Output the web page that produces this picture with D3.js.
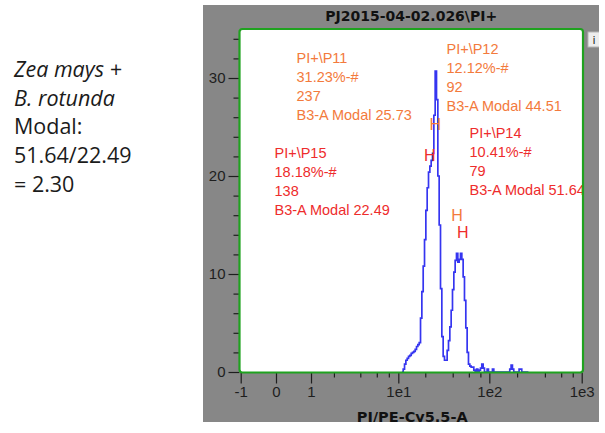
<!DOCTYPE html>
<html>
<head>
<meta charset="utf-8">
<script src="https://cdn.jsdelivr.net/npm/d3@7"></script>
<style>
  html, body { margin: 0; padding: 0; background: #ffffff; }
  svg { display: block; }
</style>
</head>
<body>
<svg id="chart" width="605" height="433"></svg>
<script>
// ---- data ----
const sampleTitle = "PJ2015-04-02.026\\PI+";
const axisTitle = "PI/PE-Cy5.5-A";

const xTickValues = [-1, 0, 1, 10, 100, 1000];
const xTickLabels = ["-1", "0", "1", "1e1", "1e2", "1e3"];
const xMinorTicks = [2, 4, 6, 8, 20, 40, 60, 80, 200, 400, 600, 800];
const yMajorTicks = [0, 10, 20, 30];
const yMinorTicks = [2, 4, 6, 8, 12, 14, 16, 18, 22, 24, 26, 28, 32, 34];

// histogram: 256 display channels across the axis, counts from channel 121 on
const channelCount = 256;
const firstChannel = 121;
const counts = [
  0, 0.3, 0.8, 1.2, 1.4, 1.6, 1.7, 1.9, 2.0, 2.1,
  2.3, 2.6, 2.8, 3.0, 5.5, 8.2, 10.8, 13.5, 16.5, 18.8,
  20.4, 21.0, 21.6, 22.3, 26.2, 30.7, 27.8, 20.0, 15.0, 8.5,
  3.6, 1.6, 1.2, 1.2, 2.2, 3.2, 4.6, 6.3, 8.4, 10.2,
  11.4, 12.1, 11.2, 11.5, 12.1, 11.5, 9.7, 7.3, 4.5, 2.0,
  0.8, 0.6, 0.5, 0.5, 0.2, 0, 0.3, 0, 0.2, 0.4,
  0.8, 0.4, 0, 0, 0.3, 0, 0, 0, 0.3, 0,
  0, 0, 0, 0, 0, 0, 0, 0, 0, 0,
  0, 0.3, 0.7, 0.3, 0, 0, 0, 0, 0.3, 0.3,
  0, 0, 0, 0, 0
];

// gates
const gateNames = ["PI+\\P11", "PI+\\P12", "PI+\\P15", "PI+\\P14"];
const gatePercents = ["31.23%-#", "12.12%-#", "18.18%-#", "10.41%-#"];
const gateEvents = [237, 92, 138, 79];
const gateModal = [25.73, 44.51, 22.49, 51.64];
const gateMarkerLevel = [25.3, 16.0, 22.1, 14.3];
const gateColors = ["#f37a3c", "#f37a3c", "#ee2c2c", "#ee2c2c"];

// side note
const noteLines = [
  { text: "Zea mays +", italic: true },
  { text: "B. rotunda", italic: true },
  { text: "Modal:", italic: false },
  { text: gateModal[3].toFixed(2) + "/" + gateModal[2].toFixed(2), italic: false },
  { text: "= " + (gateModal[3] / gateModal[2]).toFixed(2), italic: false }
];

// ---- layout ----
const panel = { x: 203, y: 5, w: 396, h: 417 };
const plot = { left: 239.5, top: 29, right: 583, bottom: 372.5 };
const labelAnchors = [[57, 34], [207, 25], [35, 129], [230, 109]]; // relative to plot
const labelLineGap = 19;

const svg = d3.select("#chart");

// side note text
const note = svg.append("g")
  .attr("font-family", "'Open Sans', 'Noto Sans', sans-serif")
  .attr("font-size", 21.5)
  .attr("fill", "#1b1b1b");
note.selectAll("text").data(noteLines).join("text")
  .attr("x", 14)
  .attr("y", (d, i) => 77 + i * 28.7)
  .attr("font-style", d => d.italic ? "italic" : "normal")
  .text(d => d.text);

// grey window
svg.append("rect")
  .attr("x", panel.x).attr("y", panel.y)
  .attr("width", panel.w).attr("height", panel.h)
  .attr("fill", "#878787");

svg.append("defs").append("clipPath").attr("id", "panelClip")
  .append("rect")
  .attr("x", panel.x).attr("y", panel.y)
  .attr("width", panel.w).attr("height", panel.h);
svg.select("defs").append("clipPath").attr("id", "plotClip")
  .append("rect")
  .attr("x", plot.left).attr("y", plot.top)
  .attr("width", plot.right - plot.left).attr("height", plot.bottom - plot.top);

const win = svg.append("g").attr("clip-path", "url(#panelClip)");

// info button
win.append("rect")
  .attr("x", 588).attr("y", 32).attr("width", 14).attr("height", 15)
  .attr("fill", "#ededed").attr("stroke", "#b5b5b5");
win.append("text")
  .attr("x", 594).attr("y", 44)
  .attr("text-anchor", "middle")
  .attr("font-family", "'DejaVu Sans', sans-serif")
  .attr("font-size", 11).attr("fill", "#222")
  .text("i");

// title
win.append("text")
  .attr("x", (plot.left + plot.right) / 2).attr("y", 20.5)
  .attr("text-anchor", "middle")
  .attr("font-family", "'DejaVu Sans', sans-serif")
  .attr("font-weight", "bold").attr("font-size", 14)
  .attr("fill", "#111")
  .text(sampleTitle);

// plot background
win.append("rect")
  .attr("x", plot.left).attr("y", plot.top)
  .attr("width", plot.right - plot.left).attr("height", plot.bottom - plot.top)
  .attr("fill", "#ffffff");

// ---- scales ----
const axisStart = plot.left + 1.2, axisEnd = plot.right - 1.3;
const axisSpan = axisEnd - axisStart;
const x = d3.scaleSymlog()
  .constant(0.5)
  .domain(xTickValues)
  .range([0, 0.1035, 0.2062, 0.4622, 0.7291, 1].map(f => axisStart + f * axisSpan));
const channel = d3.scaleLinear()
  .domain([0, channelCount])
  .range([axisStart, axisEnd]);
const y = d3.scaleLinear()
  .domain([0, 35])
  .range([plot.bottom - 0.5, plot.top]);

// ---- axes ----
const tickFont = "'Liberation Sans', Arial, sans-serif";

const yMajor = win.append("g")
  .attr("transform", `translate(${plot.left},0)`)
  .call(d3.axisLeft(y).tickValues(yMajorTicks).tickSize(11).tickPadding(3).tickFormat(d3.format("d")));
const yMinor = win.append("g")
  .attr("transform", `translate(${plot.left},0)`)
  .call(d3.axisLeft(y).tickValues(yMinorTicks).tickSize(6).tickFormat(""));

const xMajor = win.append("g")
  .attr("transform", `translate(0,${plot.bottom})`)
  .call(d3.axisBottom(x).tickValues(xTickValues).tickSize(11).tickPadding(3)
    .tickFormat((d, i) => xTickLabels[i]));
const xMinor = win.append("g")
  .attr("transform", `translate(0,${plot.bottom})`)
  .call(d3.axisBottom(x).tickValues(xMinorTicks).tickSize(5).tickFormat(""));

[yMajor, yMinor, xMajor, xMinor].forEach(g => {
  g.select(".domain").remove();
  g.selectAll(".tick line").attr("stroke", "#1e1e1e").attr("stroke-width", 1.2);
  g.selectAll(".tick text")
    .attr("font-family", tickFont).attr("font-size", 15).attr("fill", "#1e1e1e");
});

// axis title
win.append("text")
  .attr("x", (plot.left + plot.right) / 2 + 1).attr("y", 421.5)
  .attr("text-anchor", "middle")
  .attr("font-family", "'DejaVu Sans', sans-serif")
  .attr("font-weight", "bold").attr("font-size", 14.5)
  .attr("fill", "#111")
  .text(axisTitle);

// ---- histogram ----
const pts = counts.map((c, i) => [firstChannel + i, c]);
pts.push([firstChannel + counts.length, 0]);
const line = d3.line()
  .x(d => channel(d[0]))
  .y(d => y(d[1]))
  .curve(d3.curveStepAfter);

const inner = win.append("g").attr("clip-path", "url(#plotClip)");
inner.append("path")
  .attr("d", line(pts))
  .attr("fill", "none")
  .attr("stroke", "#3535f0")
  .attr("stroke-width", 1.7)
  .attr("stroke-linejoin", "miter");

// gate markers
inner.selectAll("text.marker").data(gateModal).join("text")
  .attr("class", "marker")
  .attr("x", d => x(d))
  .attr("y", (d, i) => y(gateMarkerLevel[i]))
  .attr("dy", "0.36em")
  .attr("text-anchor", "middle")
  .attr("font-family", tickFont).attr("font-size", 16)
  .attr("fill", (d, i) => gateColors[i])
  .text("H");

// gate labels
const labels = inner.selectAll("g.gate").data(gateNames).join("g")
  .attr("class", "gate")
  .attr("transform", (d, i) => `translate(${plot.left + labelAnchors[i][0]},${plot.top + labelAnchors[i][1]})`)
  .attr("fill", (d, i) => gateColors[i])
  .attr("font-family", tickFont).attr("font-size", 14.5);
labels.each(function (d, i) {
  const lines = [gateNames[i], gatePercents[i], String(gateEvents[i]),
                 "B3-A Modal " + gateModal[i].toFixed(2)];
  d3.select(this).selectAll("text").data(lines).join("text")
    .attr("x", 0).attr("y", (t, k) => k * labelLineGap)
    .text(t => t);
});

// green frame
win.append("rect")
  .attr("x", plot.left).attr("y", plot.top)
  .attr("width", plot.right - plot.left).attr("height", plot.bottom - plot.top)
  .attr("rx", 3)
  .attr("fill", "none")
  .attr("stroke", "#1fa21f")
  .attr("stroke-width", 2.2);
</script>
</body>
</html>
